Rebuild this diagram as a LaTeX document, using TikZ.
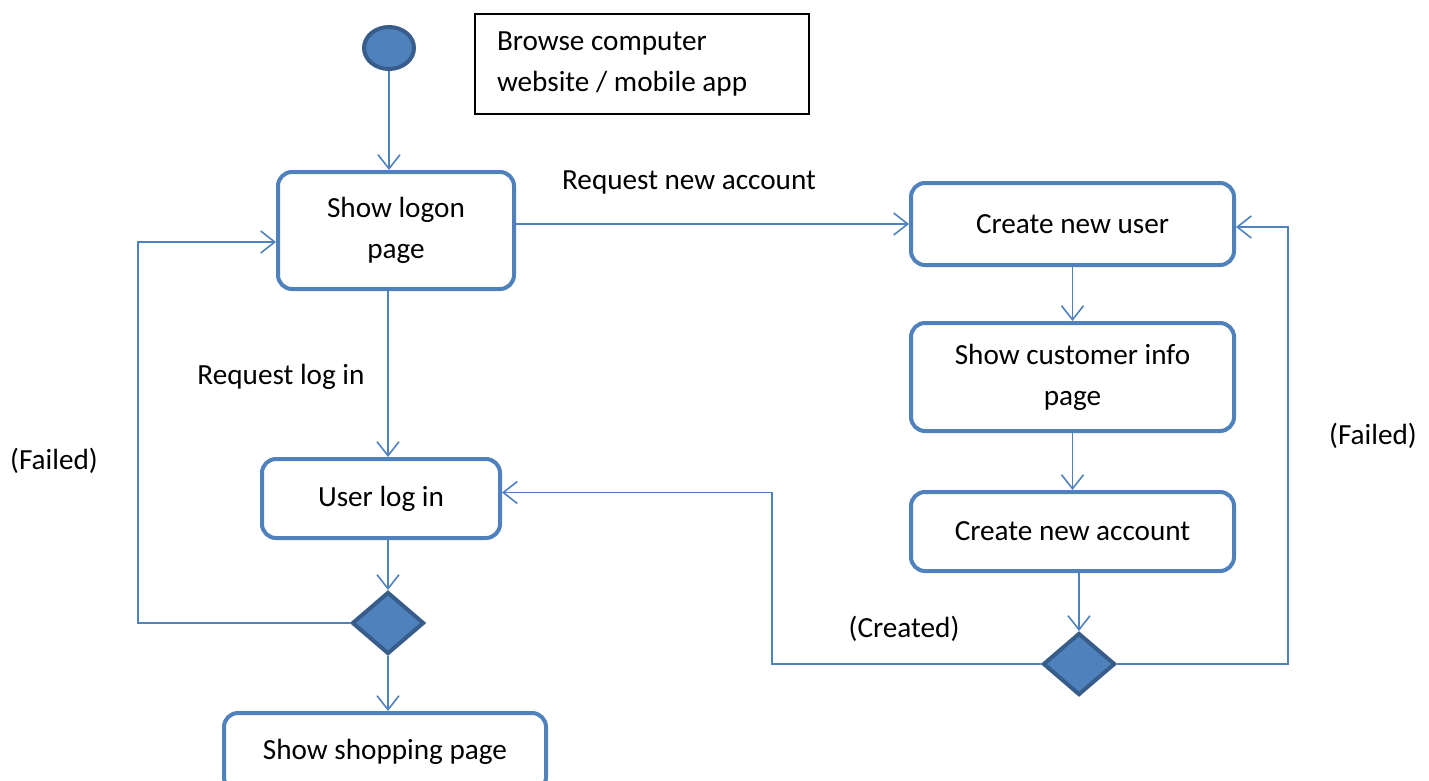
\documentclass[tikz,border=0pt]{standalone}
\usepackage{fontspec}
\setmainfont{Carlito}
\usepackage{tikz}
\usetikzlibrary{shapes.geometric,arrows.meta,calc}
\definecolor{actblue}{HTML}{4F81BD}
\definecolor{darkblue}{HTML}{385D8A}
\tikzset{
  act/.style={draw=actblue, line width=2pt, rounded corners=7pt, fill=white,
    align=center, inner sep=0pt},
  flow/.style={draw=actblue, line width=0.8pt, -{Straight Barb[length=7pt,width=11pt]}},
  decide/.style={diamond, draw=darkblue, fill=actblue, line width=2pt,
    minimum width=36pt, minimum height=31pt, inner sep=0pt},
  lbl/.style={inner sep=0pt}
}

\begin{document}
\begin{tikzpicture}[x=0.5pt, y=-0.5pt, font=\fontsize{14.6pt}{20.5pt}\selectfont]
\useasboundingbox (0,0) rectangle (1429,781);
% start and note
\node[ellipse, draw=darkblue, fill=actblue, line width=2pt, minimum width=25pt, minimum height=21pt, inner sep=0pt] (start) at (389,48) {};
\node[draw=black, line width=0.8pt, minimum width=167pt, minimum height=50pt, align=left, inner sep=0pt] (browse) at (642,64) {\makebox[145pt][l]{Browse computer}\\website / mobile app};
% activities
\node[act, minimum width=118pt, minimum height=58.5pt] (logon) at (396,230.5) {Show logon\\page};
\node[act, minimum width=119pt, minimum height=39.5pt] (login) at (381,498.5) {User log in};
\node[act, minimum width=161pt, minimum height=39pt] (shop) at (385,752) {Show shopping page};
\node[act, minimum width=161.5pt, minimum height=41pt] (newuser) at (1072.5,224) {Create new user};
\node[act, minimum width=161.5pt, minimum height=54pt] (custinfo) at (1072.5,377) {Show customer info\\page};
\node[act, minimum width=161.5pt, minimum height=39.5pt] (newacct) at (1072.5,531.5) {Create new account};
% decisions
\node[decide] (check) at (388,623) {};
\node[decide] (made) at (1079,664) {};
\coordinate (failL) at (138,0);
\coordinate (back) at (772,0);
\coordinate (failR) at (1288,0);
% connectors
\draw[flow] (start.south) -- (start.south |- logon.north);
\draw[flow] (logon.east |- newuser.west) -- (newuser.west);
\draw[flow] (logon.south -| check.north) -- (login.north -| check.north);
\draw[flow] (login.south -| check.north) -- (check.north);
\draw[flow] (check.south) -- (check.south |- shop.north);
\draw[flow] (check.west) -| ([yshift=-5.75pt]failL |- logon.west) -- ([yshift=-5.75pt]logon.west);
\draw[flow] (newuser.south) -- (custinfo.north);
\draw[flow] (custinfo.south) -- (newacct.north);
\draw[flow] (newacct.south -| made.north) -- (made.north);
\draw[flow] (made.west) -| ([yshift=3pt]back |- login.east) -- ([yshift=3pt]login.east);
\draw[flow] (made.east) -| ([yshift=-1.5pt]failR |- newuser.east) -- ([yshift=-1.5pt]newuser.east);
% labels
\node[lbl] (reqacct) at (689,182) {Request new account};
\node[lbl] (reqlog) at (281,377) {Request log in};
\node[lbl] (failed1) at (54,461) {(Failed)};
\node[lbl] (created) at (904,629) {(Created)};
\node[lbl] (failed2) at (1373,436) {(Failed)};
\end{tikzpicture}
\end{document}
